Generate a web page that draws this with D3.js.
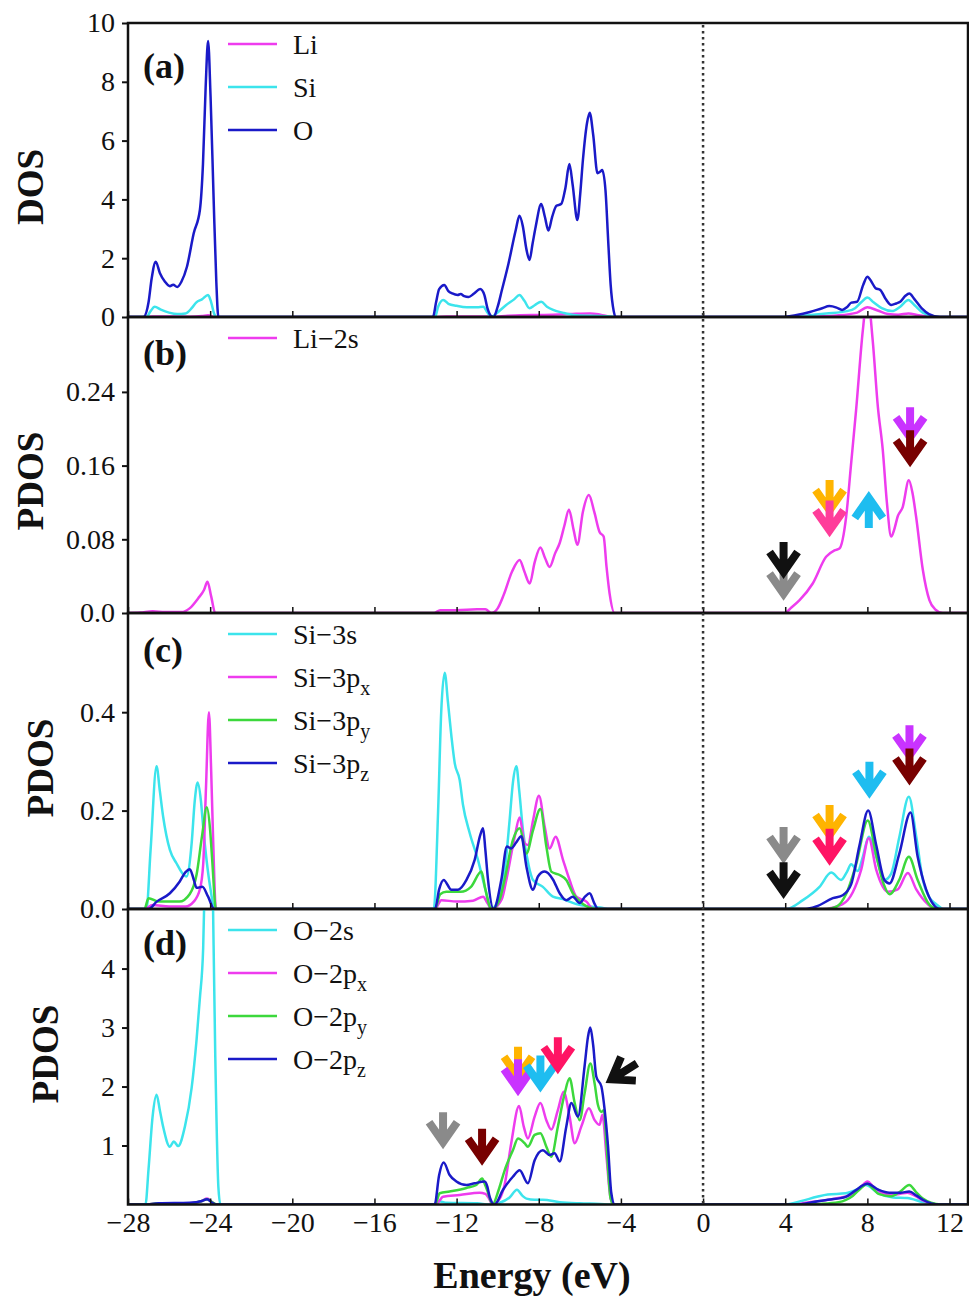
<!DOCTYPE html>
<html>
<head>
<meta charset="utf-8">
<script src="https://cdn.jsdelivr.net/npm/d3@7"></script>
<style>
  html, body { margin: 0; padding: 0; background: #fff; }
  svg { display: block; }
</style>
</head>
<body>
<svg id="chart" width="969" height="1297"></svg>
<script>
// ---------------- data ----------------
const energyTicks = [-28, -24, -20, -16, -12, -8, -4, 0, 4, 8, 12];
const ticksA = [0, 2, 4, 6, 8, 10];
const ticksB = [0, 0.08, 0.16, 0.24];
const ticksC = [0, 0.2, 0.4];
const ticksD = [1, 2, 3, 4];

// Panel (a): total DOS
const dosLi = [[-28,0],[-27.2,0],[-26.8,0.02],[-25.0,0.01],[-24.4,0.03],[-24.1,0.06],[-23.8,0],[-13.0,0],[-12.5,0.02],[-10.5,0.02],[-10.3,0],[-9.5,0.04],[-8.9,0.06],[-7.9,0.07],[-6.5,0.1],[-5.5,0.12],[-5.0,0.08],[-4.4,0],[4.0,0],[5.5,0.02],[6.5,0.05],[7.5,0.15],[8.0,0.33],[8.5,0.22],[9.0,0.1],[9.5,0.08],[10.0,0.12],[10.5,0.06],[11.2,0],[12.9,0]];
const dosSi = [[-28,0],[-27.1,0],[-26.9,0.2],[-26.7,0.35],[-26.4,0.25],[-26.0,0.15],[-25.6,0.1],[-25.2,0.12],[-24.9,0.3],[-24.67,0.5],[-24.4,0.6],[-24.1,0.75],[-23.95,0.5],[-23.8,0.1],[-23.7,0],[-13.05,0],[-12.9,0.35],[-12.65,0.58],[-12.4,0.45],[-12.0,0.38],[-11.5,0.33],[-11.0,0.33],[-10.7,0.35],[-10.5,0.15],[-10.3,0],[-10.1,0.1],[-9.6,0.4],[-9.2,0.6],[-8.94,0.75],[-8.7,0.55],[-8.45,0.3],[-8.2,0.4],[-7.88,0.52],[-7.6,0.35],[-7.3,0.24],[-6.8,0.14],[-6.3,0.07],[-5.5,0.04],[-4.5,0.02],[-4.2,0],[4.2,0],[5.0,0.05],[6.0,0.12],[7.0,0.2],[7.4,0.3],[7.7,0.5],[8.0,0.66],[8.3,0.5],[8.7,0.3],[9.2,0.2],[9.6,0.35],[10.0,0.58],[10.3,0.4],[10.7,0.15],[11.2,0.03],[11.6,0],[12.9,0]];
const dosO = [[-28,0],[-27.25,0],[-27.0,0.5],[-26.85,1.3],[-26.65,1.88],[-26.45,1.5],[-26.2,1.2],[-25.96,1.05],[-25.8,1.1],[-25.6,1.02],[-25.4,1.2],[-25.13,1.71],[-24.8,2.85],[-24.5,3.64],[-24.35,5.2],[-24.22,7.8],[-24.1,9.39],[-23.98,7.5],[-23.83,4.0],[-23.7,1.2],[-23.6,0],[-13.15,0],[-13.0,0.5],[-12.85,0.95],[-12.6,1.09],[-12.4,0.88],[-12.21,0.8],[-11.95,0.75],[-11.8,0.78],[-11.63,0.71],[-11.42,0.68],[-11.15,0.8],[-10.85,0.95],[-10.65,0.75],[-10.5,0.3],[-10.3,0.02],[-10.2,0],[-10.0,0.35],[-9.8,0.9],[-9.47,1.83],[-9.12,2.96],[-8.94,3.44],[-8.78,3.1],[-8.6,2.3],[-8.45,1.94],[-8.3,2.5],[-8.15,3.07],[-7.88,3.84],[-7.7,3.4],[-7.53,2.94],[-7.35,3.4],[-7.14,3.78],[-6.91,3.84],[-6.7,4.4],[-6.51,5.2],[-6.35,4.5],[-6.12,3.3],[-5.98,4.2],[-5.85,5.34],[-5.65,6.6],[-5.52,6.95],[-5.35,6.2],[-5.14,4.89],[-5.0,4.95],[-4.91,5.0],[-4.75,4.3],[-4.62,2.6],[-4.5,1.1],[-4.35,0.2],[-4.26,0],[3.95,0],[4.5,0.06],[5.2,0.17],[5.8,0.3],[6.15,0.37],[6.5,0.32],[6.77,0.24],[7.0,0.33],[7.22,0.49],[7.5,0.52],[7.8,1.1],[8.0,1.37],[8.2,1.2],[8.4,0.98],[8.63,0.92],[8.9,0.6],[9.16,0.41],[9.4,0.46],[9.6,0.52],[9.85,0.72],[10.04,0.8],[10.3,0.6],[10.65,0.29],[11.0,0.1],[11.54,0],[12.9,0]];

// Panel (b): Li-2s
const li2s = [[-28,0],[-27.4,0.0005],[-26.8,0.002],[-26.2,0.001],[-25.4,0.001],[-25.0,0.005],[-24.58,0.016],[-24.3,0.025],[-24.13,0.034],[-23.95,0.018],[-23.75,0],[-13.1,0],[-12.8,0.003],[-12.0,0.003],[-11.0,0.004],[-10.6,0.004],[-10.3,0],[-10.0,0.005],[-9.7,0.02],[-9.3,0.045],[-8.93,0.0575],[-8.7,0.045],[-8.44,0.032],[-8.2,0.055],[-7.92,0.071],[-7.7,0.06],[-7.47,0.05],[-7.2,0.065],[-6.98,0.076],[-6.75,0.095],[-6.53,0.112],[-6.3,0.09],[-6.12,0.074],[-5.85,0.11],[-5.56,0.128],[-5.3,0.11],[-5.04,0.088],[-4.84,0.083],[-4.7,0.05],[-4.55,0.021],[-4.31,0],[3.97,0],[4.3,0.006],[4.7,0.014],[5.34,0.032],[5.99,0.061],[6.4,0.068],[6.64,0.07],[6.97,0.105],[7.2,0.16],[7.45,0.22],[7.78,0.307],[8.0,0.345],[8.26,0.296],[8.51,0.224],[8.75,0.177],[8.95,0.12],[9.16,0.083],[9.3,0.09],[9.48,0.105],[9.72,0.115],[10.02,0.144],[10.2,0.13],[10.37,0.105],[10.7,0.047],[11.02,0.014],[11.3,0.004],[11.67,0],[12.9,0]];

// Panel (c): Si orbitals
const si3s = [[-28,0],[-27.1,0],[-26.9,0.12],[-26.61,0.29],[-26.45,0.24],[-26.29,0.188],[-25.96,0.12],[-25.64,0.093],[-25.3,0.07],[-25.15,0.066],[-24.9,0.134],[-24.75,0.22],[-24.61,0.257],[-24.45,0.22],[-24.34,0.167],[-24.0,0.045],[-23.77,0],[-13.11,0],[-12.9,0.2],[-12.75,0.4],[-12.58,0.48],[-12.42,0.42],[-12.25,0.35],[-12.09,0.296],[-11.85,0.262],[-11.69,0.212],[-11.36,0.154],[-10.96,0.10],[-10.63,0.045],[-10.31,0],[-9.9,0.03],[-9.6,0.1],[-9.42,0.18],[-9.25,0.26],[-9.09,0.29],[-8.95,0.24],[-8.77,0.16],[-8.5,0.09],[-8.28,0.059],[-7.8,0.045],[-7.31,0.025],[-6.82,0.02],[-6.17,0.01],[-5.0,0.003],[-4.5,0],[4.05,0],[4.86,0.018],[5.67,0.045],[6.24,0.074],[6.72,0.059],[7.0,0.075],[7.21,0.091],[7.53,0.077],[7.78,0.106],[8.07,0.147],[8.43,0.106],[8.83,0.059],[9.16,0.072],[9.56,0.147],[10.02,0.228],[10.38,0.147],[10.7,0.059],[11.0,0.025],[11.35,0.01],[11.7,0],[12.9,0]];
const si3px = [[-28,0],[-27.2,0],[-26.8,0.008],[-26.0,0.005],[-25.2,0.005],[-24.8,0.015],[-24.5,0.04],[-24.34,0.09],[-24.2,0.25],[-24.06,0.40],[-23.95,0.28],[-23.85,0.134],[-23.72,0],[-13.05,0],[-12.74,0.018],[-12.0,0.015],[-11.2,0.017],[-10.71,0.025],[-10.5,0.012],[-10.3,0],[-9.8,0.02],[-9.58,0.059],[-9.17,0.147],[-8.93,0.186],[-8.69,0.134],[-8.53,0.13],[-8.28,0.18],[-7.99,0.23],[-7.71,0.167],[-7.47,0.123],[-7.18,0.147],[-6.82,0.10],[-6.5,0.059],[-6.17,0.025],[-5.68,0.015],[-5.35,0],[5.8,0],[6.8,0.01],[7.29,0.034],[7.7,0.08],[8.07,0.144],[8.43,0.08],[9.0,0.035],[9.48,0.04],[9.97,0.073],[10.38,0.04],[10.94,0.01],[11.3,0],[12.9,0]];
const si3py = [[-28,0],[-27.2,0],[-27.0,0.022],[-26.5,0.015],[-25.5,0.015],[-25.0,0.03],[-24.66,0.07],[-24.4,0.147],[-24.16,0.207],[-24.0,0.16],[-23.9,0.1],[-23.72,0],[-13.05,0],[-12.8,0.03],[-12.5,0.035],[-11.8,0.035],[-11.3,0.045],[-10.79,0.076],[-10.6,0.04],[-10.3,0],[-9.9,0.02],[-9.66,0.06],[-9.26,0.14],[-8.93,0.164],[-8.6,0.113],[-8.28,0.16],[-7.92,0.203],[-7.63,0.127],[-7.39,0.076],[-6.98,0.069],[-6.66,0.059],[-6.34,0.032],[-5.85,0.01],[-5.2,0],[6.0,0],[6.5,0.005],[6.96,0.03],[7.45,0.09],[8.02,0.18],[8.43,0.11],[8.8,0.05],[9.08,0.03],[9.56,0.06],[10.02,0.106],[10.45,0.059],[11.0,0.01],[11.4,0],[12.9,0]];
const si3pz = [[-28,0],[-27.0,0],[-26.6,0.015],[-25.96,0.032],[-25.48,0.056],[-25.2,0.075],[-24.99,0.081],[-24.8,0.06],[-24.66,0.043],[-24.38,0.045],[-24.1,0.025],[-23.8,0],[-13.05,0],[-12.85,0.04],[-12.63,0.059],[-12.25,0.039],[-11.93,0.039],[-11.52,0.059],[-11.12,0.10],[-10.85,0.15],[-10.71,0.164],[-10.6,0.12],[-10.47,0.059],[-10.2,0],[-9.82,0.06],[-9.55,0.127],[-9.34,0.123],[-9.1,0.135],[-8.85,0.148],[-8.6,0.086],[-8.28,0.039],[-8.04,0.066],[-7.71,0.076],[-7.31,0.06],[-6.98,0.032],[-6.66,0.018],[-6.34,0.025],[-6.01,0.012],[-5.75,0.025],[-5.52,0.032],[-5.3,0.012],[-5.11,0],[5.0,0],[5.51,0.005],[6.32,0.022],[6.8,0.028],[7.21,0.05],[7.62,0.13],[8.04,0.20],[8.43,0.13],[8.83,0.059],[9.08,0.052],[9.56,0.113],[10.1,0.196],[10.45,0.106],[10.86,0.04],[11.2,0.01],[11.5,0],[12.9,0]];

// Panel (d): O orbitals
const o2s = [[-28,0],[-27.15,0],[-27.0,0.6],[-26.8,1.5],[-26.61,1.86],[-26.45,1.6],[-26.29,1.32],[-25.96,0.98],[-25.77,1.07],[-25.56,0.99],[-25.23,1.32],[-24.9,1.98],[-24.66,2.8],[-24.5,3.5],[-24.34,4.35],[-24.2,6.5],[-24.05,8.8],[-23.9,6.0],[-23.75,2.5],[-23.6,0.3],[-23.5,0],[-13.1,0],[-12.8,0.05],[-12.5,0.03],[-11.0,0.02],[-10.4,0],[-9.9,0.03],[-9.42,0.12],[-9.06,0.25],[-8.8,0.15],[-8.6,0.1],[-8.2,0.08],[-7.8,0.08],[-6.98,0.04],[-6.0,0.02],[-5.0,0.01],[-4.5,0],[3.95,0],[4.8,0.06],[5.54,0.13],[6.07,0.17],[6.95,0.19],[7.48,0.25],[7.92,0.33],[8.54,0.19],[9.25,0.12],[9.95,0.11],[10.7,0.04],[11.5,0],[12.9,0]];
const o2px = [[-28,0],[-27.2,0],[-26.5,0.02],[-25,0.02],[-24.4,0.06],[-24.15,0.1],[-23.9,0.04],[-23.7,0],[-13.05,0],[-12.85,0.06],[-12.66,0.13],[-11.85,0.16],[-10.88,0.2],[-10.6,0.18],[-10.47,0.13],[-10.25,0],[-9.9,0.1],[-9.66,0.34],[-9.34,1.04],[-8.96,1.67],[-8.73,1.32],[-8.53,1.12],[-8.2,1.49],[-7.92,1.72],[-7.63,1.43],[-7.39,1.27],[-7.07,1.6],[-6.79,1.91],[-6.5,1.49],[-6.25,1.04],[-5.93,1.32],[-5.56,1.63],[-5.28,1.43],[-5.04,1.35],[-4.9,1.52],[-4.7,0.8],[-4.5,0.1],[-4.35,0],[4.5,0],[5.0,0.03],[6.42,0.1],[7.3,0.18],[7.7,0.3],[8.0,0.39],[8.3,0.3],[8.71,0.2],[9.25,0.16],[9.6,0.18],[9.95,0.2],[10.3,0.15],[10.7,0.07],[11.5,0],[12.9,0]];
const o2py = [[-28,0],[-27.2,0],[-26.5,0.02],[-25,0.02],[-24.4,0.06],[-24.15,0.09],[-23.9,0.04],[-23.7,0],[-13.05,0],[-12.82,0.19],[-12.34,0.22],[-11.52,0.28],[-11.04,0.33],[-10.76,0.44],[-10.6,0.32],[-10.47,0.2],[-10.25,0],[-9.95,0.25],[-9.66,0.58],[-9.26,0.92],[-9.01,1.12],[-8.69,1.04],[-8.53,0.98],[-8.2,1.18],[-7.92,1.21],[-7.63,0.98],[-7.39,0.81],[-7.07,1.32],[-6.74,1.88],[-6.5,2.14],[-6.25,1.72],[-6.01,1.43],[-5.77,1.88],[-5.49,2.39],[-5.28,2.05],[-5.12,1.69],[-4.95,1.57],[-4.83,1.6],[-4.7,1.0],[-4.5,0.1],[-4.35,0],[5.0,0],[5.6,0.01],[6.6,0.04],[7.3,0.15],[7.7,0.28],[8.0,0.35],[8.3,0.26],[8.54,0.18],[9.16,0.14],[9.6,0.22],[10.04,0.33],[10.35,0.22],[10.7,0.1],[11.1,0.03],[11.6,0],[12.9,0]];
const o2pz = [[-28,0],[-27.2,0],[-26.5,0.02],[-25,0.03],[-24.4,0.06],[-24.15,0.09],[-23.9,0.03],[-23.7,0],[-13.07,0],[-12.85,0.5],[-12.63,0.71],[-12.34,0.5],[-12.01,0.39],[-11.52,0.33],[-11.12,0.36],[-10.63,0.39],[-10.5,0.3],[-10.39,0.13],[-10.15,0],[-9.74,0.25],[-9.26,0.47],[-8.93,0.58],[-8.53,0.36],[-8.2,0.75],[-7.8,0.92],[-7.47,0.84],[-7.23,0.87],[-6.98,0.73],[-6.66,1.32],[-6.41,1.72],[-6.09,1.49],[-5.77,2.34],[-5.6,2.85],[-5.49,3.0],[-5.35,2.7],[-5.2,2.17],[-4.95,2.0],[-4.79,1.6],[-4.63,1.0],[-4.47,0.2],[-4.3,0],[4.6,0],[5.2,0.03],[6.07,0.08],[6.95,0.13],[7.39,0.23],[8.0,0.35],[8.54,0.25],[9.07,0.2],[9.6,0.2],[10.04,0.22],[10.4,0.15],[10.7,0.08],[11.5,0],[12.9,0]];

// Arrow annotations: energy, value at tip, colour, rotation (0 = pointing down)
const arrowsB = [
  {e: 3.92, v: 0.0123, c: "#8a8a8a", r: 0},
  {e: 3.92, v: 0.0358, c: "#111111", r: 0},
  {e: 6.16, v: 0.103, c: "#ffb400", r: 0},
  {e: 6.16, v: 0.081, c: "#ff3d9a", r: 0},
  {e: 8.07, v: 0.1335, c: "#1ebdf0", r: 180},
  {e: 10.08, v: 0.182, c: "#c933ff", r: 0},
  {e: 10.08, v: 0.157, c: "#780000", r: 0}
];
const arrowsC = [
  {e: 3.92, v: 0.0895, c: "#8a8a8a", r: 0},
  {e: 3.92, v: 0.018, c: "#111111", r: 0},
  {e: 6.16, v: 0.134, c: "#ffb400", r: 0},
  {e: 6.16, v: 0.086, c: "#ff1464", r: 0},
  {e: 8.1, v: 0.222, c: "#1ebdf0", r: 0},
  {e: 10.05, v: 0.296, c: "#c933ff", r: 0},
  {e: 10.05, v: 0.249, c: "#780000", r: 0}
];
const arrowsD = [
  {e: -12.66, v: 0.92, c: "#8a8a8a", r: 0},
  {e: -10.76, v: 0.64, c: "#780000", r: 0},
  {e: -9.01, v: 2.03, c: "#ffb400", r: 0},
  {e: -9.01, v: 1.82, c: "#c933ff", r: 0},
  {e: -7.92, v: 1.88, c: "#1ebdf0", r: 0},
  {e: -7.07, v: 2.19, c: "#ff1464", r: 0},
  {e: -4.79, v: 2.05, c: "#111111", r: 58}
];

// ---------------- styles ----------------
const MAG = "#ee3cee", CYA = "#3ce4ec", GRN = "#3cd83c", BLU = "#1a1ac8";
const SERIF = "'Liberation Serif', 'Times New Roman', serif";

const panels = [
  {tag: "(a)", ylab: "DOS", top: 23, bot: 317, dom: [0, 10], ticks: ticksA,
   fmt: d3.format("d"), tagY: 78, ylabX: 30, ylabY: 187,
   series: [{n: "Li", c: MAG, d: dosLi}, {n: "Si", c: CYA, d: dosSi}, {n: "O", c: BLU, d: dosO}],
   arrows: []},
  {tag: "(b)", ylab: "PDOS", top: 317, bot: 613, dom: [0, 0.3213], ticks: ticksB,
   fmt: v => v === 0 ? "0.0" : String(v), tagY: 365, ylabX: 30, ylabY: 481,
   series: [{n: "Li−2s", c: MAG, d: li2s}],
   arrows: arrowsB},
  {tag: "(c)", ylab: "PDOS", top: 613, bot: 909, dom: [0, 0.6016], ticks: ticksC,
   fmt: v => v === 0 ? "0.0" : String(v), tagY: 662, ylabX: 40, ylabY: 768,
   series: [{n: "Si−3s", c: CYA, d: si3s}, {n: "Si−3p", s: "x", c: MAG, d: si3px},
            {n: "Si−3p", s: "y", c: GRN, d: si3py}, {n: "Si−3p", s: "z", c: BLU, d: si3pz}],
   arrows: arrowsC},
  {tag: "(d)", ylab: "PDOS", top: 909, bot: 1204.5, dom: [0, 5.01], ticks: ticksD,
   fmt: d3.format("d"), tagY: 955, ylabX: 45, ylabY: 1054,
   series: [{n: "O−2s", c: CYA, d: o2s}, {n: "O−2p", s: "x", c: MAG, d: o2px},
            {n: "O−2p", s: "y", c: GRN, d: o2py}, {n: "O−2p", s: "z", c: BLU, d: o2pz}],
   arrows: arrowsD}
];

const X0 = 128, X1 = 968;
const svg = d3.select("#chart");
svg.append("rect").attr("width", 969).attr("height", 1297).attr("fill", "#fff");

const x = d3.scaleLinear().domain([-28, 12.9]).range([X0, X1]);
const defs = svg.append("defs");
const arrowPath = "M0,-38L0,-9M-14,-28L0,-8L14,-28";

panels.forEach((p, i) => {
  const y = d3.scaleLinear().domain(p.dom).range([p.bot, p.top]);
  const g = svg.append("g");

  defs.append("clipPath").attr("id", "clip" + i)
    .append("rect").attr("x", X0).attr("y", p.top).attr("width", X1 - X0).attr("height", p.bot - p.top);

  // curves
  const line = d3.line().x(d => x(d[0])).y(d => y(d[1])).curve(d3.curveMonotoneX);
  const cg = g.append("g").attr("clip-path", `url(#clip${i})`);
  p.series.forEach(s => {
    cg.append("path").datum(s.d).attr("d", line)
      .attr("fill", "none").attr("stroke", s.c).attr("stroke-width", 2.5)
      .attr("stroke-linejoin", "round");
  });

  // y axis
  const ya = g.append("g").attr("transform", `translate(${X0},0)`)
    .call(d3.axisLeft(y).tickValues(p.ticks).tickFormat(p.fmt).tickSizeInner(6).tickSizeOuter(0).tickPadding(7));
  ya.select(".domain").remove();
  ya.selectAll("line").attr("stroke", "#111").attr("stroke-width", 2);
  ya.selectAll("text").attr("font-family", SERIF).attr("font-size", 28).attr("fill", "#111");

  // x axis ticks (inward) at panel bottom
  const isLast = i === panels.length - 1;
  const xa = g.append("g").attr("transform", `translate(0,${p.bot})`)
    .call(d3.axisBottom(x).tickValues(energyTicks).tickFormat(isLast ? d3.format("d") : () => "")
      .tickSizeInner(-6).tickSizeOuter(0).tickPadding(8));
  xa.select(".domain").remove();
  xa.selectAll("line").attr("stroke", "#111").attr("stroke-width", 1.5);
  xa.selectAll("text").attr("font-family", SERIF).attr("font-size", 28).attr("fill", "#111");

  // frame
  g.append("rect").attr("x", X0).attr("y", p.top).attr("width", X1 - X0).attr("height", p.bot - p.top)
    .attr("fill", "none").attr("stroke", "#111").attr("stroke-width", 2.5);

  // panel tag
  g.append("text").attr("x", 143).attr("y", p.tagY).text(p.tag)
    .attr("font-family", SERIF).attr("font-weight", "bold").attr("font-size", 36).attr("fill", "#111");

  // y label
  g.append("text").attr("transform", `translate(${p.ylabX},${p.ylabY}) rotate(-90)`)
    .attr("text-anchor", "middle").attr("dy", "0.35em").text(p.ylab)
    .attr("font-family", SERIF).attr("font-weight", "bold").attr("font-size", 37).attr("fill", "#111");

  // legend
  p.series.forEach((s, k) => {
    const ly = p.top + 21 + k * 43;
    g.append("line").attr("x1", 228).attr("x2", 277).attr("y1", ly).attr("y2", ly)
      .attr("stroke", s.c).attr("stroke-width", 2.5);
    const t = g.append("text").attr("x", 293).attr("y", ly).attr("dy", "0.35em")
      .attr("font-family", SERIF).attr("font-size", 28).attr("fill", "#111");
    t.append("tspan").text(s.n);
    if (s.s) t.append("tspan").attr("dy", 8).attr("font-size", 20).text(s.s);
  });

  // arrows
  p.arrows.forEach(a => {
    g.append("path").attr("d", arrowPath)
      .attr("transform", `translate(${x(a.e)},${y(a.v)}) rotate(${a.r})`)
      .attr("fill", "none").attr("stroke", a.c).attr("stroke-width", 8)
      .attr("stroke-linejoin", "miter").attr("stroke-miterlimit", 10).attr("stroke-linecap", "butt");
  });
});

// Fermi level dotted line
svg.append("line").attr("x1", x(0)).attr("x2", x(0))
  .attr("y1", panels[0].top + 2).attr("y2", panels[3].bot - 1)
  .attr("stroke", "#333").attr("stroke-width", 2.5).attr("stroke-dasharray", "2.5,3.5");

// x label
svg.append("text").attr("x", 532).attr("y", 1288).attr("text-anchor", "middle")
  .text("Energy (eV)").attr("font-family", SERIF).attr("font-weight", "bold")
  .attr("font-size", 38).attr("fill", "#111");
</script>
</body>
</html>
